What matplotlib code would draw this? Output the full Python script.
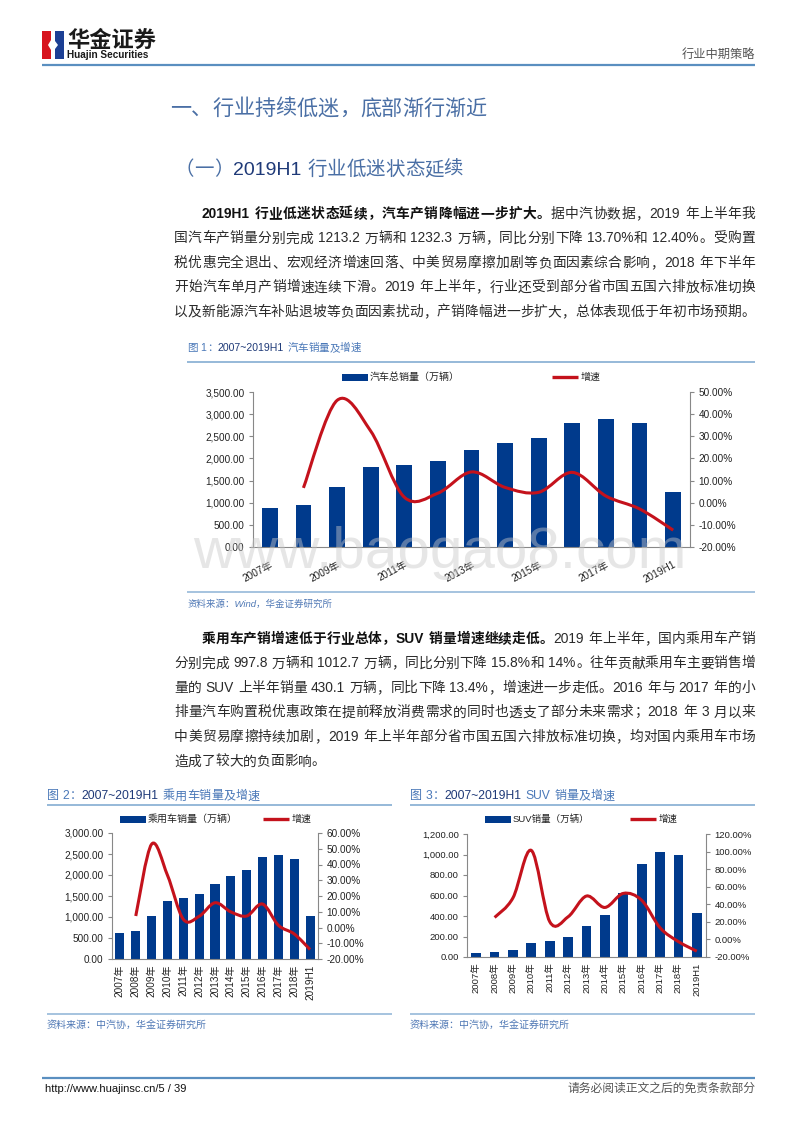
import re
import numpy as np
import matplotlib
matplotlib.use('Agg')
import matplotlib.pyplot as plt
from matplotlib.path import Path
from matplotlib.patches import PathPatch, Rectangle, Polygon
from matplotlib.ticker import FuncFormatter

# ---------------- data ----------------
years = ['2007年', '2008年', '2009年', '2010年', '2011年', '2012年', '2013年',
         '2014年', '2015年', '2016年', '2017年', '2018年', '2019H1']
total_sales = [879, 938, 1364, 1806, 1851, 1931, 2198, 2349, 2460, 2803, 2888, 2808, 1232]
total_growth = [None, 6.7, 46.2, 32.4, 2.5, 4.3, 13.9, 6.9, 4.7, 13.7, 3.0, -2.8, -12.4]
pv_sales = [630, 676, 1033, 1376, 1447, 1550, 1793, 1970, 2115, 2438, 2472, 2371, 1013]
pv_growth = [None, 7.3, 52.9, 33.2, 5.2, 7.1, 15.7, 9.9, 7.3, 14.9, 1.4, -4.1, -14.0]
suv_sales = [36, 45, 66, 133, 159, 200, 299, 408, 622, 905, 1025, 999, 430]
suv_growth = [None, 25.0, 47.3, 101.3, 20.2, 25.8, 49.4, 36.4, 52.4, 44.6, 13.3, -2.5, -13.4]

W, H = 800, 1132
FAM = ['Liberation Sans', 'Noto Sans CJK SC', 'DejaVu Sans']
plt.rcParams['font.family'] = FAM
BAR = '#003A8C'
RED = '#C4121C'
TITLE_BLUE = '#4A6FA5'
NAVY = '#1F3A78'
LINE_BLUE = '#5A8FC0'
SRC = '#4F78B5'

fig = plt.figure(figsize=(8, 11.32), dpi=100)
ax0 = fig.add_axes([0, 0, 1, 1])
ax0.set_xlim(0, W)
ax0.set_ylim(H, 0)
ax0.axis('off')
renderer = fig.canvas.get_renderer()


def px(pt):
    return pt * 100 / 72.0


def draw_runs(x, yc, runs, fs, target=None, color='#2a2a2a'):
    """Draw text runs starting at x with visual center yc; justify to target width."""
    items = []
    base = yc + 0.36 * px(fs)
    for text, kw in runs:
        for m in re.finditer(r'[!-~]+| |.', text):
            tok = m.group(0)
            f = kw.get('fs', fs)
            if tok == ' ':
                items.append((None, px(f) * 0.28))
                continue
            t = ax0.text(0, base, tok, fontsize=f, va='baseline', ha='left',
                         color=kw.get('color', color),
                         fontweight=kw.get('weight', 'normal'))
            if len(tok) == 1 and ord(tok) > 0x2000:
                w = px(f)
            else:
                w = t.get_window_extent(renderer).width + 0.5
            items.append((t, w))
    natural = sum(w for _, w in items)
    gap = 0.0
    if target is not None and len(items) > 1:
        gap = (target - natural) / (len(items) - 1)
    cx = x
    for t, w in items:
        if t is not None:
            t.set_x(cx)
        cx += w + gap
    return cx


def hline(x1, x2, y, color=LINE_BLUE, lw=1.5):
    ax0.plot([x1, x2], [y, y], color=color, lw=lw, solid_capstyle='butt')


# ---------------- header ----------------
ax0.add_patch(Rectangle((42, 31), 11, 28, color='#D7141E', lw=0))
ax0.add_patch(Rectangle((53, 31), 11, 28, color='#1C3F94', lw=0))
ax0.add_patch(Polygon([(51, 31), (55, 31), (55, 41), (58, 45), (55, 49), (55, 59),
                       (51, 59), (51, 50), (48, 45), (51, 40)], closed=True,
                      color='white', lw=0))
ax0.text(67, 40, '华金证券', fontsize=16, fontweight='bold', color='#1a1a1a',
         va='center', ha='left', family=['Noto Sans CJK SC'])
ax0.text(67, 55.5, 'Huajin Securities', fontsize=7.2, fontweight='bold',
         color='#1a1a1a', va='center', ha='left')
ax0.text(755, 55, '行业中期策略', fontsize=8.8, color='#555555', va='center', ha='right')
hline(42, 755, 65, LINE_BLUE, 1.6)

# ---------------- headings ----------------
draw_runs(170, 107, [('一、行业持续低迷，底部渐行渐近', {'color': TITLE_BLUE, 'weight': 'light'})], 15.2)
draw_runs(175, 168, [('（一）', {'color': TITLE_BLUE, 'weight': 'light'}),
                     ('2019H1', {'color': NAVY}),
                     (' 行业低迷状态延续', {'color': TITLE_BLUE, 'weight': 'light'})], 14)

# ---------------- paragraph 1 ----------------
FS = 9.9
L, R = 174, 755
IND = 2 * px(FS)
B = {'weight': 'bold', 'color': '#111111'}
N = {}
para1 = [
    [('2019H1 行业低迷状态延续，汽车产销降幅进一步扩大。', B), ('据中汽协数据，2019 年上半年我', N)],
    [('国汽车产销量分别完成 1213.2 万辆和 1232.3 万辆，同比分别下降 13.70%和 12.40%。受购置', N)],
    [('税优惠完全退出、宏观经济增速回落、中美贸易摩擦加剧等负面因素综合影响，2018 年下半年', N)],
    [('开始汽车单月产销增速连续下滑。2019 年上半年，行业还受到部分省市国五国六排放标准切换', N)],
    [('以及新能源汽车补贴退坡等负面因素扰动，产销降幅进一步扩大，总体表现低于年初市场预期。', N)],
]
for i, runs in enumerate(para1):
    x0 = L + IND if i == 0 else L
    draw_runs(x0, 213 + 24.5 * i, runs, FS, target=R - x0)

para2 = [
    [('乘用车产销增速低于行业总体，SUV 销量增速继续走低。', B), ('2019 年上半年，国内乘用车产销', N)],
    [('分别完成 997.8 万辆和 1012.7 万辆，同比分别下降 15.8%和 14%。往年贡献乘用车主要销售增', N)],
    [('量的 SUV 上半年销量 430.1 万辆，同比下降 13.4%，增速进一步走低。2016 年与 2017 年的小', N)],
    [('排量汽车购置税优惠政策在提前释放消费需求的同时也透支了部分未来需求；2018 年 3 月以来', N)],
    [('中美贸易摩擦持续加剧，2019 年上半年部分省市国五国六排放标准切换，均对国内乘用车市场', N)],
    [('造成了较大的负面影响。', N)],
]
for i, runs in enumerate(para2):
    x0 = L + IND if i == 0 else L
    tgt = R - x0 if i < len(para2) - 1 else None
    draw_runs(x0, 638 + 24.5 * i, runs, FS, target=tgt)


# ---------------- figure titles / sources ----------------
def fig_title(x, y, num, rest, fs):
    draw_runs(x, y, [('图 %d：' % num, {'color': '#4A78B8'}),
                     ('2007~2019H1', {'color': NAVY}),
                     (' ' + rest, {'color': '#4A78B8'})], fs)


fig_title(187, 347, 1, '汽车销量及增速', 7.6)
hline(187, 755, 362, '#8DB3D6', 1.3)
hline(187, 755, 592, '#8DB3D6', 1.1)
ax0.text(187, 604, '资料来源：Wind，华金证券研究所', fontsize=6.8, color=SRC,
         va='center', ha='left', style='italic')

fig_title(47, 795, 2, '乘用车销量及增速', 8.7)
hline(47, 392, 805, '#8DB3D6', 1.3)
hline(47, 392, 1014, '#8DB3D6', 1.1)
ax0.text(47, 1026, '资料来源：中汽协，华金证券研究所', fontsize=7.2, color=SRC,
         va='center', ha='left', style='italic')

fig_title(410, 795, 3, 'SUV 销量及增速', 8.7)
hline(410, 755, 805, '#8DB3D6', 1.3)
hline(410, 755, 1014, '#8DB3D6', 1.1)
ax0.text(410, 1026, '资料来源：中汽协，华金证券研究所', fontsize=7.2, color=SRC,
         va='center', ha='left', style='italic')


# ---------------- charts ----------------
def smooth_path(xs, ys):
    P = np.column_stack([xs, ys]).astype(float)
    n = len(P)
    verts = [P[0]]
    codes = [Path.MOVETO]
    for i in range(n - 1):
        p0 = P[i - 1] if i > 0 else P[i]
        p3 = P[i + 2] if i + 2 < n else P[i + 1]
        c1 = P[i] + (P[i + 1] - p0) / 6.0
        c2 = P[i + 1] - (p3 - P[i]) / 6.0
        verts += [c1, c2, P[i + 1]]
        codes += [Path.CURVE4] * 3
    return Path(verts, codes)


def chart(box, sales, growth, lmax, lstep, rmin, rmax, rstep, bw, fs,
          rot, every, legend, bar_label, xpad=4):
    l, t, r, b = box
    ax = fig.add_axes([l / W, 1 - b / H, (r - l) / W, (b - t) / H])
    x = np.arange(len(years))
    ax.bar(x, sales, width=bw, color=BAR, zorder=2)
    ax.set_xlim(-0.5, len(years) - 0.5)
    ax.set_ylim(0, lmax)
    ax.set_yticks(np.arange(0, lmax + 1, lstep))
    ax.yaxis.set_major_formatter(FuncFormatter(lambda v, p: f'{v:,.2f}'))
    ticks = list(range(0, len(years), every))
    ax.set_xticks(ticks)
    if rot == 90:
        ax.set_xticklabels([years[i] for i in ticks], rotation=90, ha='center', va='top')
    else:
        ax.set_xticklabels([years[i] for i in ticks], rotation=rot, ha='right',
                           va='top', rotation_mode='anchor')
    ax.tick_params(axis='x', length=0, labelsize=fs, colors='#222222', pad=xpad)
    ax.tick_params(axis='y', length=3, labelsize=fs, color='#888888',
                   labelcolor='#222222', pad=3)
    for s in ['top', 'right']:
        ax.spines[s].set_visible(False)
    for s in ['left', 'bottom']:
        ax.spines[s].set_color('#888888')
        ax.spines[s].set_linewidth(0.8)
    ax2 = ax.twinx()
    ax2.set_ylim(rmin, rmax)
    ax2.set_yticks(np.arange(rmin, rmax + 0.01, rstep))
    ax2.yaxis.set_major_formatter(FuncFormatter(lambda v, p: f'{v:.2f}%'))
    ax2.tick_params(axis='y', length=3, labelsize=fs, color='#888888',
                    labelcolor='#222222', pad=3)
    for s in ['top', 'left', 'bottom']:
        ax2.spines[s].set_visible(False)
    ax2.spines['right'].set_color('#888888')
    ax2.spines['right'].set_linewidth(0.8)
    gx = [i for i, g in enumerate(growth) if g is not None]
    gy = [g for g in growth if g is not None]
    ax2.add_patch(PathPatch(smooth_path(gx, gy), fill=False, edgecolor=RED,
                            lw=2.2, capstyle='butt', zorder=3))
    # legend
    ly, p1, l1 = legend
    ax0.add_patch(Rectangle((p1, ly - 3.5), 26, 7, color=BAR, lw=0))
    ax0.text(p1 + 28, ly, bar_label, fontsize=fs, va='center', ha='left', color='#222222')
    ax0.plot([l1, l1 + 26], [ly, ly], color=RED, lw=2.4, solid_capstyle='butt')
    ax0.text(l1 + 29, ly, '增速', fontsize=fs, va='center', ha='left', color='#222222')
    return ax


chart((253, 392, 690, 547), total_sales, total_growth, 3500, 500, -20, 50, 10,
      0.47, 7.2, 28, 2, (377, 342, 552), '汽车总销量（万辆）', xpad=9)
chart((112, 833, 318, 959), pv_sales, pv_growth, 3000, 500, -20, 60, 10,
      0.57, 7.2, 90, 1, (819, 120, 263), '乘用车销量（万辆）')
chart((467, 834, 706, 957), suv_sales, suv_growth, 1200, 200, -20, 120, 20,
      0.53, 6.8, 90, 1, (819, 485, 630), 'SUV销量（万辆）')

# watermark
fig.text(440 / W, 1 - 553 / H, 'www.baogao8.com', fontsize=42, color='#c8c8c8',
         alpha=0.45, ha='center', va='center', zorder=10)

# ---------------- footer ----------------
hline(42, 755, 1078, LINE_BLUE, 1.6)
ax0.text(45, 1089, 'http://www.huajinsc.cn/5 / 39', fontsize=8, color='#111111',
         va='center', ha='left')
ax0.text(755, 1089, '请务必阅读正文之后的免责条款部分', fontsize=8.5, color='#555555',
         va='center', ha='right')

fig.savefig('out.png', dpi=100)
